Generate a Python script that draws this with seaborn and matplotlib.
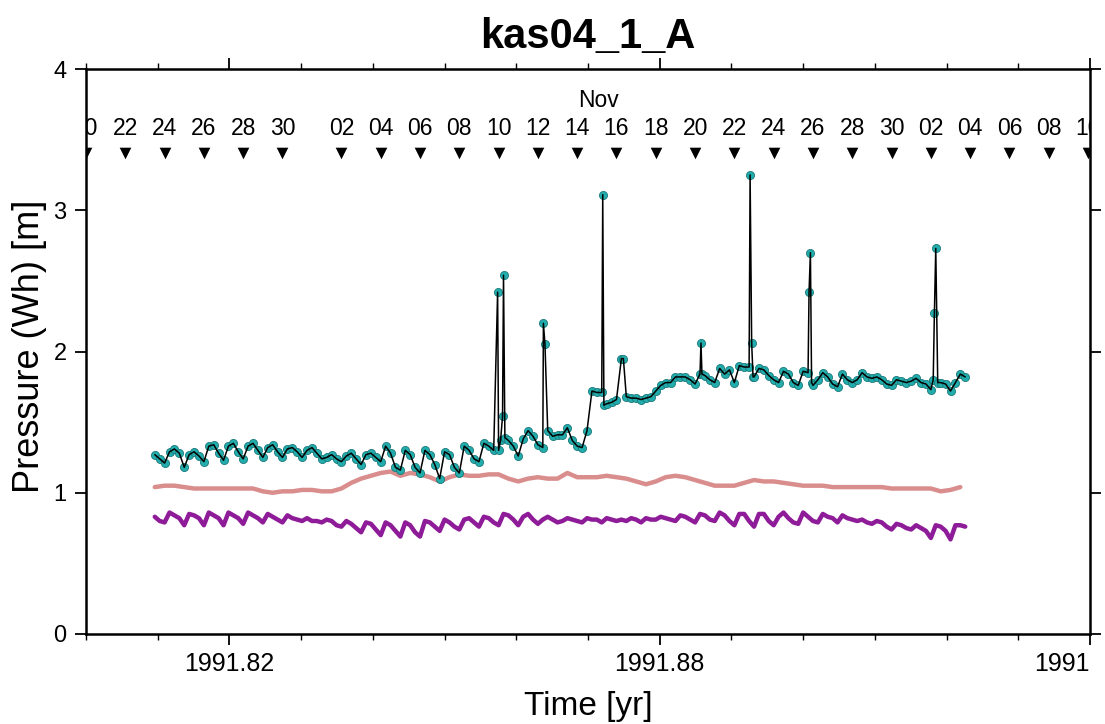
import numpy as np
import pandas as pd
import matplotlib
matplotlib.use("Agg")
import matplotlib.pyplot as plt
import seaborn as sns
from datetime import date

# ---------------- data ----------------
# time grid: days after 1991-10-24 00:00, 6-hour sampling
grid_start_day = -0.5
grid_step_day = 0.25

# main pressure series (m), 4 values per day
main_vals = [
    1.27, 1.24,
    1.21, 1.29, 1.31, 1.28,
    1.18, 1.27, 1.29, 1.26,
    1.22, 1.33, 1.34, 1.28,
    1.23, 1.33, 1.35, 1.29,
    1.24, 1.33, 1.35, 1.30,
    1.25, 1.32, 1.34, 1.29,
    1.25, 1.31, 1.32, 1.29,
    1.25, 1.30, 1.32, 1.28,
    1.24, 1.25, 1.27, 1.24,
    1.22, 1.26, 1.28, 1.24,
    1.20, 1.27, 1.28, 1.25,
    1.22, 1.33, 1.28, 1.18,
    1.16, 1.30, 1.27, 1.18,
    1.14, 1.30, 1.27, 1.20,
    1.10, 1.29, 1.27, 1.18,
    1.14, 1.33, 1.30, 1.24,
    1.22, 1.35, 1.33, 1.30,
    1.30, 2.54, 1.37, 1.33,
    1.26, 1.38, 1.44, 1.40,
    1.34, 1.32, 1.44, 1.40,
    1.41, 1.41, 1.46, 1.37,
    1.33, 1.32, 1.44, 1.72,
    1.71, 1.71, 1.63, 1.64,
    1.66, 1.95, 1.68, 1.67,
    1.67, 1.66, 1.67, 1.68,
    1.72, 1.76, 1.78, 1.78,
    1.82, 1.82, 1.82, 1.80,
    1.77, 1.84, 1.83, 1.80,
    1.78, 1.88, 1.84, 1.87,
    1.78, 1.90, 1.89, 1.89,
    1.82, 1.88, 1.87, 1.83,
    1.80, 1.78, 1.86, 1.84,
    1.78, 1.76, 1.86, 1.85,
    1.76, 1.80, 1.85, 1.82,
    1.77, 1.75, 1.84, 1.80,
    1.78, 1.80, 1.85, 1.82,
    1.81, 1.82, 1.80, 1.77,
    1.76, 1.80, 1.79, 1.78,
    1.79, 1.81, 1.78, 1.77,
    1.73, 2.73, 1.78, 1.77,
    1.72, 1.78, 1.84, 1.82,
]

# extra samples of the main series around the spikes (day, value)
spike_days = [16.95, 17.10, 17.20, 17.32, 19.28, 19.36, 22.30, 22.36, 23.35,
              27.30, 27.35, 29.80, 29.88, 29.95, 32.80, 32.87, 32.93,
              39.12, 39.18, 39.35]
spike_vals = [2.42, 1.37, 1.54, 1.39, 2.20, 2.05, 3.11, 1.62, 1.95,
              2.06, 1.84, 3.25, 2.06, 1.82, 2.42, 2.70, 1.78,
              1.80, 2.27, 1.78]

# purple series (m), same 6-hour grid
purple_vals = [
    0.83, 0.80,
    0.79, 0.86, 0.84, 0.82,
    0.77, 0.85, 0.84, 0.82,
    0.77, 0.86, 0.84, 0.82,
    0.77, 0.86, 0.84, 0.82,
    0.78, 0.86, 0.84, 0.82,
    0.79, 0.85, 0.83, 0.81,
    0.79, 0.84, 0.82, 0.81,
    0.80, 0.82, 0.80, 0.80,
    0.79, 0.81, 0.80, 0.77,
    0.76, 0.80, 0.78, 0.75,
    0.72, 0.79, 0.78, 0.74,
    0.70, 0.79, 0.77, 0.73,
    0.69, 0.79, 0.77, 0.72,
    0.69, 0.80, 0.79, 0.76,
    0.73, 0.81, 0.79, 0.76,
    0.74, 0.81, 0.82, 0.79,
    0.76, 0.83, 0.82, 0.79,
    0.77, 0.85, 0.84, 0.81,
    0.77, 0.83, 0.85, 0.81,
    0.78, 0.81, 0.83, 0.81,
    0.79, 0.80, 0.82, 0.81,
    0.80, 0.79, 0.82, 0.81,
    0.81, 0.79, 0.82, 0.81,
    0.80, 0.81, 0.80, 0.82,
    0.81, 0.79, 0.82, 0.81,
    0.81, 0.83, 0.82, 0.81,
    0.80, 0.84, 0.83, 0.81,
    0.79, 0.85, 0.84, 0.81,
    0.80, 0.86, 0.84, 0.80,
    0.77, 0.85, 0.85, 0.80,
    0.76, 0.85, 0.85, 0.80,
    0.77, 0.83, 0.86, 0.82,
    0.79, 0.78, 0.86, 0.83,
    0.80, 0.79, 0.85, 0.83,
    0.82, 0.79, 0.84, 0.82,
    0.81, 0.80, 0.81, 0.79,
    0.78, 0.80, 0.79, 0.76,
    0.74, 0.78, 0.77, 0.75,
    0.74, 0.77, 0.75, 0.73,
    0.68, 0.77, 0.76, 0.73,
    0.67, 0.77, 0.77, 0.76,
]

# pink series (m), 12-hour grid starting at the same time
pink_step_day = 0.5
pink_vals = [
    1.04, 1.05, 1.05, 1.04, 1.03, 1.03, 1.03, 1.03, 1.03, 1.03,
    1.03, 1.01, 1.00, 1.01, 1.01, 1.02, 1.02, 1.01, 1.01, 1.03,
    1.07, 1.10, 1.12, 1.14, 1.15, 1.12, 1.14, 1.13, 1.11, 1.08,
    1.11, 1.13, 1.12, 1.12, 1.13, 1.13, 1.10, 1.08, 1.10, 1.11,
    1.10, 1.10, 1.14, 1.11, 1.11, 1.11, 1.12, 1.11, 1.10, 1.08,
    1.06, 1.08, 1.11, 1.12, 1.11, 1.09, 1.07, 1.05, 1.05, 1.05,
    1.07, 1.09, 1.08, 1.08, 1.07, 1.06, 1.05, 1.05, 1.05, 1.04,
    1.04, 1.04, 1.04, 1.04, 1.04, 1.03, 1.03, 1.03, 1.03, 1.03,
    1.01, 1.02, 1.04,
]

# top calendar annotations
day_dates = ["1991-10-20", "1991-10-22", "1991-10-24", "1991-10-26", "1991-10-28",
             "1991-10-30", "1991-11-02", "1991-11-04", "1991-11-06", "1991-11-08",
             "1991-11-10", "1991-11-12", "1991-11-14", "1991-11-16", "1991-11-18",
             "1991-11-20", "1991-11-22", "1991-11-24", "1991-11-26", "1991-11-28",
             "1991-11-30", "1991-12-02", "1991-12-04", "1991-12-06", "1991-12-08",
             "1991-12-10"]
month_label = "Nov"

x_major = [1991.82, 1991.88, 1991.94]
x_major_labels = ["1991.82", "1991.88", "1991"]
y_ticks = [0, 1, 2, 3, 4]

title = "kas04_1_A"
xlabel = "Time [yr]"
ylabel = "Pressure (Wh) [m]"

# ---------------- helpers ----------------
REF_DOY = 297  # 1991-10-24


def day_to_year(d):
    return 1991 + (REF_DOY - 1 + np.asarray(d, dtype=float)) / 365.0


def date_to_year(s):
    dt = date.fromisoformat(s)
    return 1991 + (dt.timetuple().tm_yday - 1) / 365.0 + (dt.year - 1991)


grid_days = grid_start_day + grid_step_day * np.arange(len(main_vals))
main_df = pd.DataFrame({"day": np.concatenate([grid_days, spike_days]),
                        "val": np.concatenate([main_vals, spike_vals])})
main_df = main_df.sort_values("day").reset_index(drop=True)
main_df["year"] = day_to_year(main_df["day"])

purple_df = pd.DataFrame({"year": day_to_year(grid_start_day + grid_step_day * np.arange(len(purple_vals))),
                          "val": purple_vals})
pink_df = pd.DataFrame({"year": day_to_year(grid_start_day + pink_step_day * np.arange(len(pink_vals))),
                        "val": pink_vals})

# ---------------- figure ----------------
sns.set_theme(style="white")
from matplotlib import font_manager
names = {f.name for f in font_manager.fontManager.ttflist}
base_font = "Liberation Sans" if "Liberation Sans" in names else "DejaVu Sans"
plt.rcParams["font.family"] = [base_font, "DejaVu Sans"]
plt.rcParams.update({"text.color": "black", "axes.labelcolor": "black",
                     "xtick.color": "black", "ytick.color": "black",
                     "axes.edgecolor": "black"})

W, H = 1105, 724
fig = plt.figure(figsize=(W / 100, H / 100), dpi=100)
L, R, T, B = 86, 1090, 69, 634
ax = fig.add_axes([L / W, 1 - B / H, (R - L) / W, (B - T) / H])

sns.lineplot(data=pink_df, x="year", y="val", ax=ax, color="#da8d8d", lw=3.2,
             estimator=None, sort=False, zorder=2)
sns.lineplot(data=purple_df, x="year", y="val", ax=ax, color="#8e1b98", lw=3.2,
             estimator=None, sort=False, zorder=2)
sns.scatterplot(data=main_df, x="year", y="val", ax=ax, color="#22acac", s=34,
                edgecolor="#1a7878", linewidth=0.6, zorder=3)
sns.lineplot(data=main_df, x="year", y="val", ax=ax, color="black", lw=1.1,
             estimator=None, sort=False, zorder=4)

ax.set_xlim(1991.80, 1991.94)
ax.set_ylim(0, 4)

# calendar annotations
day_x = [date_to_year(s) for s in day_dates]
ax.scatter(day_x, [3.405] * len(day_x), marker="v", s=70, color="black",
           linewidths=0, zorder=5, clip_on=True)
for s, xv in zip(day_dates, day_x):
    ax.text(xv, 3.58, s[-2:], ha="center", va="center", fontsize=16.5,
            clip_on=True, zorder=5)
ax.text(1991.8714, 3.78, month_label, ha="center", va="center", fontsize=16.5)

# ticks
ax.set_xticks(x_major)
ax.set_xticklabels(x_major_labels)
ax.set_xticks(np.round(np.arange(1991.80, 1991.9401, 0.01), 2), minor=True)
ax.set_yticks(y_ticks)
ax.tick_params(axis="both", which="major", direction="out", length=8, width=1.3,
               top=True, right=True, bottom=True, left=True,
               labeltop=False, labelright=False, color="black")
ax.tick_params(axis="x", which="minor", direction="out", length=4, width=1.0,
               top=True, bottom=True)
ax.tick_params(axis="x", which="major", labelsize=18, pad=5)
ax.tick_params(axis="y", which="major", labelsize=17, pad=6)
for lab in ax.get_xticklabels():
    if lab.get_text() == "1991":
        lab.set_horizontalalignment("right")

for sp in ax.spines.values():
    sp.set_visible(True)
    sp.set_linewidth(1.8)
    sp.set_color("black")

ax.set_xlabel(xlabel, fontsize=24, va="center")
ax.xaxis.set_label_coords(0.5, (B - 706) / (B - T))
ax.set_ylabel(ylabel, fontsize=26, va="center")
ax.yaxis.set_label_coords((30 - L) / (R - L), 0.51)

fig.text(588 / W, 1 - 48 / H, title, ha="center", va="baseline",
         fontsize=30, fontweight="bold")

fig.savefig("out.png", dpi=100, facecolor="white")
